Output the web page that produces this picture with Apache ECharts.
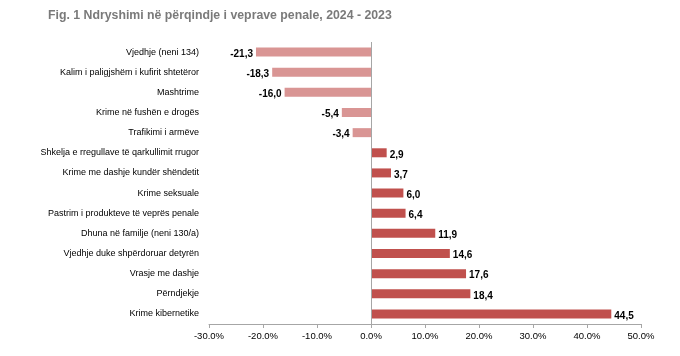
<!DOCTYPE html>
<html><head><meta charset="utf-8">
<script src="https://cdn.jsdelivr.net/npm/echarts@6/dist/echarts.min.js"></script>
<style>html,body{margin:0;padding:0;background:#fff}#c{width:680px;height:356px}</style>
</head><body><div id="c"></div>
<script>
const categories = [
  'Vjedhje (neni 134)',
  'Kalim i paligjshëm i kufirit shtetëror',
  'Mashtrime',
  'Krime në fushën e drogës',
  'Trafikimi i armëve',
  'Shkelja e rregullave të qarkullimit rrugor',
  'Krime me dashje kundër shëndetit',
  'Krime seksuale',
  'Pastrim i produkteve të veprës penale',
  'Dhuna në familje (neni 130/a)',
  'Vjedhje duke shpërdoruar detyrën',
  'Vrasje me dashje',
  'Përndjekje',
  'Krime kibernetike'
];
const values = [-21.3, -18.3, -16.0, -5.4, -3.4, 2.9, 3.7, 6.0, 6.4, 11.9, 14.6, 17.6, 18.4, 44.5];
const xTicks = [-30, -20, -10, 0, 10, 20, 30, 40, 50];
const title = 'Fig. 1 Ndryshimi në përqindje i veprave penale, 2024 - 2023';

const font = '"Liberation Sans", Arial, sans-serif';
const fmt = v => v.toFixed(1).replace('.', ',');
const chart = echarts.init(document.getElementById('c'), null, {renderer: 'canvas'});
chart.setOption({
  animation: false,
  title: {
    text: title, left: 43, top: 5,
    textStyle: {fontFamily: font, fontSize: 12.3, fontWeight: 'bold', color: '#7a7a7a'}
  },
  grid: {left: 209, right: 39, top: 42, bottom: 32, containLabel: false},
  xAxis: {
    type: 'value', min: xTicks[0], max: xTicks[xTicks.length - 1], interval: 10,
    axisLine: {show: true, onZero: false, lineStyle: {color: '#a6a6a6'}},
    axisTick: {show: true, length: 4, lineStyle: {color: '#a6a6a6'}},
    splitLine: {show: false},
    axisLabel: {fontFamily: font, fontSize: 9.5, color: '#000', margin: 7,
      formatter: v => v.toFixed(1) + '%'}
  },
  yAxis: {
    type: 'category', data: categories, inverse: true,
    axisLine: {show: false, onZero: false},
    axisTick: {show: false},
    axisLabel: {fontFamily: font, fontSize: 9, color: '#000', margin: 10}
  },
  series: [{
    type: 'bar',
    data: values.map(v => ({
      value: v,
      itemStyle: {color: v < 0 ? '#d99594' : '#c0504d'},
      label: {position: v < 0 ? 'left' : 'right'}
    })),
    barWidth: 9,
    label: {
      show: true, fontFamily: font, fontSize: 10, fontWeight: 'bold', color: '#000',
      distance: 3, offset: [0, 2],
      formatter: p => fmt(p.value)
    },
    markLine: {
      silent: true, symbol: 'none', label: {show: false},
      lineStyle: {color: '#a6a6a6', type: 'solid', width: 1},
      data: [{xAxis: 0}]
    }
  }]
});
</script></body></html>
